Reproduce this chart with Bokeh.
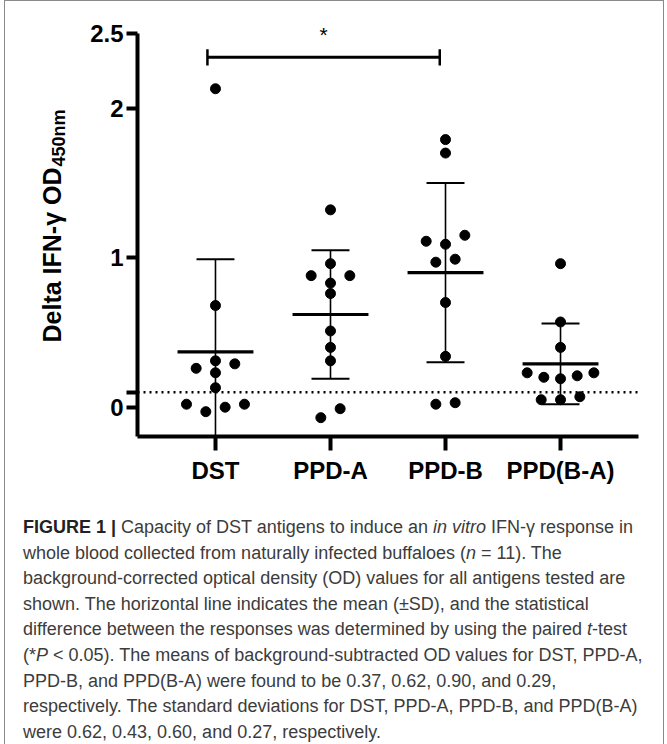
import numpy as np
from bokeh.plotting import figure
from bokeh.models import FixedTicker, Span, Div, Range1d, ColumnDataSource, Spacer
from bokeh.layouts import column, row
from bokeh.embed import file_html
from bokeh.resources import INLINE
from bokeh.core.properties import value

# ---------------- data ----------------
categories = ["DST", "PPD-A", "PPD-B", "PPD(B-A)"]
dst_values = [2.13, 0.68, 0.31, 0.29, 0.26, 0.23, 0.13, 0.02, 0.02, 0.00, -0.03]
ppd_a_values = [1.32, 0.96, 0.88, 0.88, 0.83, 0.76, 0.51, 0.40, 0.31, -0.01, -0.07]
ppd_b_values = [1.79, 1.70, 1.15, 1.11, 1.09, 0.99, 0.97, 0.70, 0.34, 0.03, 0.02]
ppd_ba_values = [0.96, 0.57, 0.40, 0.23, 0.23, 0.21, 0.20, 0.19, 0.07, 0.05, 0.05]
mean_values = [0.37, 0.62, 0.90, 0.29]
sd_values = [0.62, 0.43, 0.60, 0.27]
y_tick_values = [0, 0.1, 1, 2, 2.5]
y_tick_labels = ["0", "", "1", "2", "2.5"]
cutoff_value = 0.1
sig_groups = ["DST", "PPD-B"]
sig_label = "*"
n_animals = 11
y_label_main = "Delta IFN-\u03b3 OD"
y_label_sub = "450nm"

group_values = [dst_values, ppd_a_values, ppd_b_values, ppd_ba_values]

# ---------------- geometry ----------------
FONT = "Liberation Sans"
INNER_W = 648
LW = 70                      # width of the y-title strip
FIG_W = INNER_W - LW
FIG_H = 489
BL, BR, BT, BB = 62, 15, 17, 54
x_start, x_end = 0.322, 4.678
y_start, y_end = -0.196, 2.600
PX_PER_UNIT = (FIG_H - BT - BB) / (y_end - y_start)


def swarm_offsets(vals, row_tol=0.065, step=0.168, max_half=0.29):
    vals = np.asarray(vals, dtype=float)
    order = np.argsort(vals, kind="stable")
    rows, cur = [], [order[0]]
    for idx in order[1:]:
        if vals[idx] - vals[cur[0]] < row_tol:
            cur.append(idx)
        else:
            rows.append(cur)
            cur = [idx]
    rows.append(cur)
    offs = np.zeros(len(vals))
    for r in rows:
        n = len(r)
        s = step if n < 2 else min(step, max_half / ((n - 1) / 2))
        if n % 2 == 1:
            slots = [0] + [sg * k for k in range(1, n // 2 + 1) for sg in (-1, 1)]
        else:
            slots = [sg * (k - 0.5) for k in range(1, n // 2 + 1) for sg in (-1, 1)]
        for idx, sl in zip(r, slots):
            offs[idx] = sl * s
    return offs


p = figure(width=FIG_W, height=FIG_H, output_backend="svg", toolbar_location=None,
           x_range=Range1d(x_start, x_end), y_range=Range1d(y_start, y_end),
           min_border_left=BL, min_border_right=BR, min_border_top=BT, min_border_bottom=BB)
p.outline_line_color = None
p.xgrid.visible = False
p.ygrid.visible = False

# axes
xpos = list(range(1, len(categories) + 1))
p.xaxis.ticker = FixedTicker(ticks=xpos)
p.xaxis.major_label_overrides = {i: c for i, c in zip(xpos, categories)}
p.yaxis.ticker = FixedTicker(ticks=y_tick_values)
p.yaxis.major_label_overrides = {t: l for t, l in zip(y_tick_values, y_tick_labels)}
p.yaxis.bounds = (y_start, y_tick_values[-1])
for ax in (p.xaxis, p.yaxis):
    ax.axis_line_width = 4
    ax.axis_line_color = "black"
    ax.major_tick_line_width = 4
    ax.major_tick_line_color = "black"
    ax.major_tick_in = 0
    ax.minor_tick_line_color = None
    ax.major_label_text_font = FONT
    ax.major_label_text_font_style = "bold"
    ax.major_label_text_font_size = "24px"
    ax.major_label_text_color = "black"
p.xaxis.major_tick_out = 14
p.yaxis.major_tick_out = 11
p.xaxis.major_label_standoff = 6
p.yaxis.major_label_standoff = 3

# cutoff dotted line
p.add_layout(Span(location=cutoff_value, dimension="width", line_color="black",
                  line_width=2.5, line_dash="2 4"))

# error bars (mean +- SD)
MEAN_HALF = 0.33
CAP_HALF = 0.165
mean_src = ColumnDataSource(dict(
    x=xpos, mean=mean_values,
    lo=[m - s for m, s in zip(mean_values, sd_values)],
    hi=[m + s for m, s in zip(mean_values, sd_values)],
    xl=[x - MEAN_HALF for x in xpos], xr=[x + MEAN_HALF for x in xpos],
    cl=[x - CAP_HALF for x in xpos], cr=[x + CAP_HALF for x in xpos],
))
p.segment(x0="x", x1="x", y0="lo", y1="hi", source=mean_src, line_color="black", line_width=1.6)
p.segment(x0="cl", x1="cr", y0="hi", y1="hi", source=mean_src, line_color="black", line_width=2)
p.segment(x0="cl", x1="cr", y0="lo", y1="lo", source=mean_src, line_color="black", line_width=2)
p.segment(x0="xl", x1="xr", y0="mean", y1="mean", source=mean_src, line_color="black", line_width=3.2)

# points
px, py = [], []
for i, vals in enumerate(group_values):
    offs = swarm_offsets(vals)
    px.extend(list(xpos[i] + offs))
    py.extend(vals)
p.scatter(px, py, size=10, marker="circle", fill_color="black", line_color="black")

# significance bar
i0 = categories.index(sig_groups[0]) + 1
i1 = categories.index(sig_groups[1]) + 1
sig_y = 2.34
cap_h = 0.055
p.segment(x0=[i0 - 0.07], x1=[i1 - 0.05], y0=[sig_y], y1=[sig_y], line_color="black", line_width=3)
p.segment(x0=[i0 - 0.07, i1 - 0.05], x1=[i0 - 0.07, i1 - 0.05],
          y0=[sig_y - cap_h] * 2, y1=[sig_y + cap_h] * 2, line_color="black", line_width=2.5)
p.text(x=[(i0 + i1) / 2 - 0.06], y=[2.49], text=[sig_label], text_align="center",
       text_baseline="alphabetic", text_font=value(FONT), text_font_size="21px",
       text_color="black")

# ---------------- y-axis title strip (shares the value scale) ----------------
lf = figure(width=LW, height=FIG_H, output_backend="svg", toolbar_location=None,
            x_range=Range1d(0, LW), y_range=p.y_range,
            min_border_left=0, min_border_right=0, min_border_top=BT, min_border_bottom=BB,
            x_axis_location=None, y_axis_location=None)
lf.outline_line_color = None
lf.xgrid.visible = False
lf.ygrid.visible = False

STRIP_PAGE_LEFT, REF_ZERO_Y = 13, 406.7   # page pixels


def lx(page_x):
    return page_x - STRIP_PAGE_LEFT


def ly(page_y):
    return (REF_ZERO_Y - page_y) / PX_PER_UNIT


main_px, sub_px = 25, 18
main_w = 7.0 * main_px
lab_bottom = 342
lf.text(x=[lx(59)], y=[ly(lab_bottom)], text=[y_label_main], angle=np.pi / 2,
        text_align="left", text_baseline="alphabetic", text_font=value(FONT),
        text_font_size=f"{main_px}px", text_font_style="bold", text_color="black")
lf.text(x=[lx(66)], y=[ly(lab_bottom - main_w - 1)], text=[y_label_sub], angle=np.pi / 2,
        text_align="left", text_baseline="alphabetic", text_font=value(FONT),
        text_font_size=f"{sub_px}px", text_font_style="bold", text_color="black")

# ---------------- caption ----------------
mtxt = ", ".join(f"{m:.2f}" for m in mean_values[:-1]) + f", and {mean_values[-1]:.2f}"
stxt = ", ".join(f"{s:.2f}" for s in sd_values[:-1]) + f", and {sd_values[-1]:.2f}"
cat_list = ", ".join(categories[:-1]) + ", and " + categories[-1]
lines = [
    f'<b style="color:#222">FIGURE 1 |</b> Capacity of {categories[0]} antigens to induce an <i>in vitro</i> IFN-\u03b3 response in',
    f'whole blood collected from naturally infected buffaloes (<i>n</i> = {n_animals}). The',
    'background-corrected optical density (OD) values for all antigens tested are',
    'shown. The horizontal line indicates the mean (\u00b1SD), and the statistical',
    'difference between the responses was determined by using the paired <i>t</i>-test',
    f'(*<i>P</i> &lt; 0.05). The means of background-subtracted OD values for {", ".join(categories[:2])},',
    f'{categories[2]}, and {categories[3]} were found to be {mtxt},',
    f'respectively. The standard deviations for {cat_list}',
    f'were {stxt}, respectively.',
]
html = ('<div style="padding:20px 0 0 13px; font-family:\'Liberation Sans\'; font-size:18px; '
        'line-height:25.6px; color:#3c3c3c; white-space:nowrap;">' + "<br>".join(lines) + '</div>')
div = Div(text=html, width=INNER_W, height=734 - FIG_H)

boxed = column(row(lf, p), div, styles={"border": "1px solid #8a8a8a"})
layout = row(Spacer(width=4, height=10), boxed)

open("out.html", "w").write(file_html(layout, INLINE))
